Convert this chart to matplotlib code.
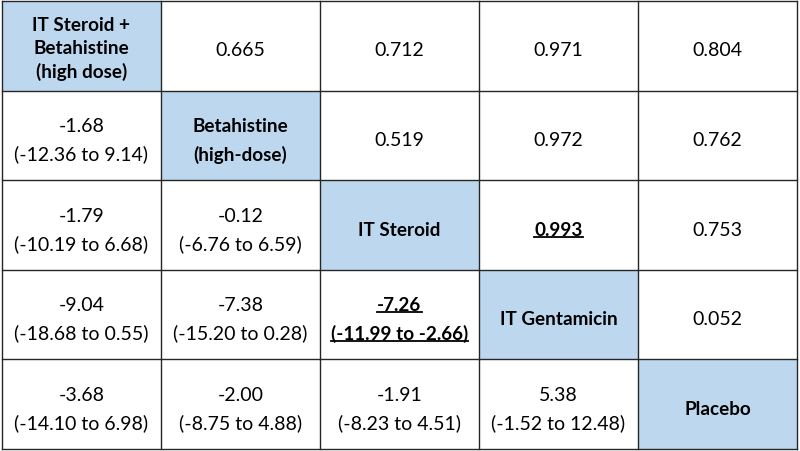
import matplotlib.pyplot as plt
from matplotlib.patches import Rectangle
from matplotlib.lines import Line2D

# Treatment names on the diagonal
treatments = ['IT Steroid +\nBetahistine\n(high dose)', 'Betahistine\n(high-dose)',
              'IT Steroid', 'IT Gentamicin', 'Placebo']

# Upper triangle: p-values (row, col, text)
p_values = [
    (0, 1, '0.665'), (0, 2, '0.712'), (0, 3, '0.971'), (0, 4, '0.804'),
    (1, 2, '0.519'), (1, 3, '0.972'), (1, 4, '0.762'),
    (2, 3, '0.993'), (2, 4, '0.753'),
    (3, 4, '0.052'),
]

# Lower triangle: mean difference and 95% CI
estimates = [
    (1, 0, '-1.68', '(-12.36 to 9.14)'),
    (2, 0, '-1.79', '(-10.19 to 6.68)'), (2, 1, '-0.12', '(-6.76 to 6.59)'),
    (3, 0, '-9.04', '(-18.68 to 0.55)'), (3, 1, '-7.38', '(-15.20 to 0.28)'),
    (3, 2, '-7.26', '(-11.99 to -2.66)'),
    (4, 0, '-3.68', '(-14.10 to 6.98)'), (4, 1, '-2.00', '(-8.75 to 4.88)'),
    (4, 2, '-1.91', '(-8.23 to 4.51)'), (4, 3, '5.38', '(-1.52 to 12.48)'),
]

# cells flagged as significant (bold + underlined)
significant = [(2, 3), (3, 2)]

n = len(treatments)
font = 'Lato'
fsize = 14
fsize_bold = 13.6
diag_color = '#BDD7EE'
border_color = '#262626'

fig = plt.figure(figsize=(8, 4.52), dpi=100)
ax = fig.add_axes([2 / 800, 2 / 452, 795 / 800, 448 / 452])
ax.set_xlim(0, n)
ax.set_ylim(n, 0)
ax.axis('off')

for i in range(n):
    ax.add_patch(Rectangle((i, i), 1, 1, facecolor=diag_color, edgecolor='none'))

for k in range(n + 1):
    ax.plot([k, k], [0, n], color=border_color, lw=1.0, clip_on=False, solid_capstyle='projecting')
    ax.plot([0, n], [k, k], color=border_color, lw=1.0, clip_on=False, solid_capstyle='projecting')

underline_texts = []


def cell_text(row, col, lines, bold=False, underline=False):
    cx = col + 0.5
    if len(lines) == 3:
        step, cy = 0.262, row + 0.505
    else:
        step, cy = 0.31, row + 0.53
    start = cy - step * (len(lines) - 1) / 2
    for j, line in enumerate(lines):
        t = ax.text(cx, start + j * step, line, ha='center', va='center_baseline',
                    fontsize=fsize_bold if bold else fsize, family=font,
                    fontweight='bold' if bold else 'normal', color='black')
        if underline:
            underline_texts.append(t)


for i, name in enumerate(treatments):
    cell_text(i, i, name.split('\n'), bold=True)

for r, c, txt in p_values:
    sig = (r, c) in significant
    cell_text(r, c, [txt], bold=sig, underline=sig)

for r, c, est, ci in estimates:
    sig = (r, c) in significant
    cell_text(r, c, [est, ci], bold=sig, underline=sig)

# underline the significant entries
fig.canvas.draw()
renderer = fig.canvas.get_renderer()
inv = fig.transFigure.inverted()
for t in underline_texts:
    bb = t.get_window_extent(renderer)
    x0, y0 = inv.transform((bb.x0, bb.y0 + 1))
    x1, _ = inv.transform((bb.x1, bb.y0 + 1))
    fig.add_artist(Line2D([x0, x1], [y0, y0], color='black', lw=1.3, transform=fig.transFigure))

fig.savefig('out.png', dpi=100, facecolor='white')
